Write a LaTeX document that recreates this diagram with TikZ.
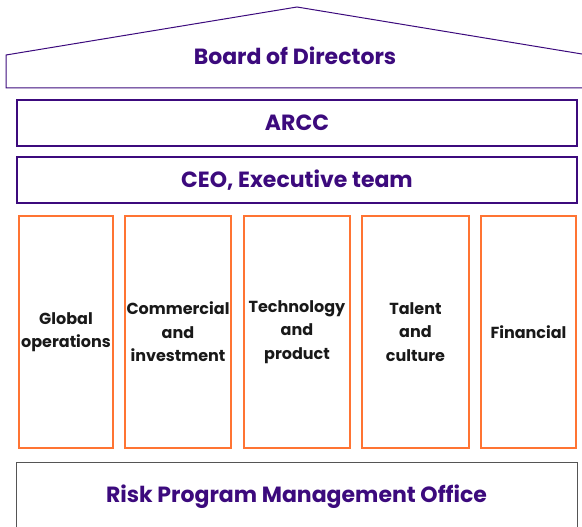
\documentclass[tikz,border=0pt]{standalone}
\usepackage{fontspec}
\setmainfont{Poppins}
\definecolor{rpurple}{HTML}{3C0A7D}
\definecolor{rorange}{HTML}{FF7433}
\definecolor{rgray}{HTML}{555555}
\tikzset{
  tier/.style={draw=rpurple, line width=1.1pt, inner sep=0pt, text=rpurple,
    font=\fontsize{22}{24}\selectfont\bfseries},
  pillar/.style={draw=rorange, line width=1.1pt, inner sep=0pt, align=center,
    minimum height=232pt, text=black!90, font=\fontsize{16}{23.5}\selectfont\bfseries},
}
\begin{document}
\begin{tikzpicture}[x=1pt, y=-1pt]
\useasboundingbox (0,0) rectangle (582,527);
\clip (0,0) rectangle (582,527);
% roof
\draw[rpurple, line width=1pt] (6,88) -- (6,55) -- (297,7) -- (588,55) -- (588,88) -- cycle;
\node[text=rpurple, font=\fontsize{22}{24}\selectfont\bfseries] (board) at (295,56) {Board of Directors};
% tiers
\node[tier, minimum width=560pt, minimum height=46pt] (arcc) at (297,123) {ARCC};
\node[tier, minimum width=560pt, minimum height=46pt] (ceo) at (297,180) {CEO, Executive team};
% pillars
\node[pillar, minimum width=94pt] (globalops) at (66,332) {Global\\operations};
\node[pillar, minimum width=106pt] (commercial) at (178,332) {Commercial\\and\\investment};
\node[pillar, minimum width=106pt] (technology) at (297,332) {Technology\\and\\product};
\node[pillar, minimum width=107pt] (talent) at (415.5,332) {Talent\\and\\culture};
\node[pillar, minimum width=95pt] (financial) at (528.5,332) {Financial};
% base
\node[tier, draw=rgray, line width=0.9pt, minimum width=561pt, minimum height=70pt] (rpmo) at (296.5,497) {Risk Program Management Office};
\end{tikzpicture}
\end{document}
